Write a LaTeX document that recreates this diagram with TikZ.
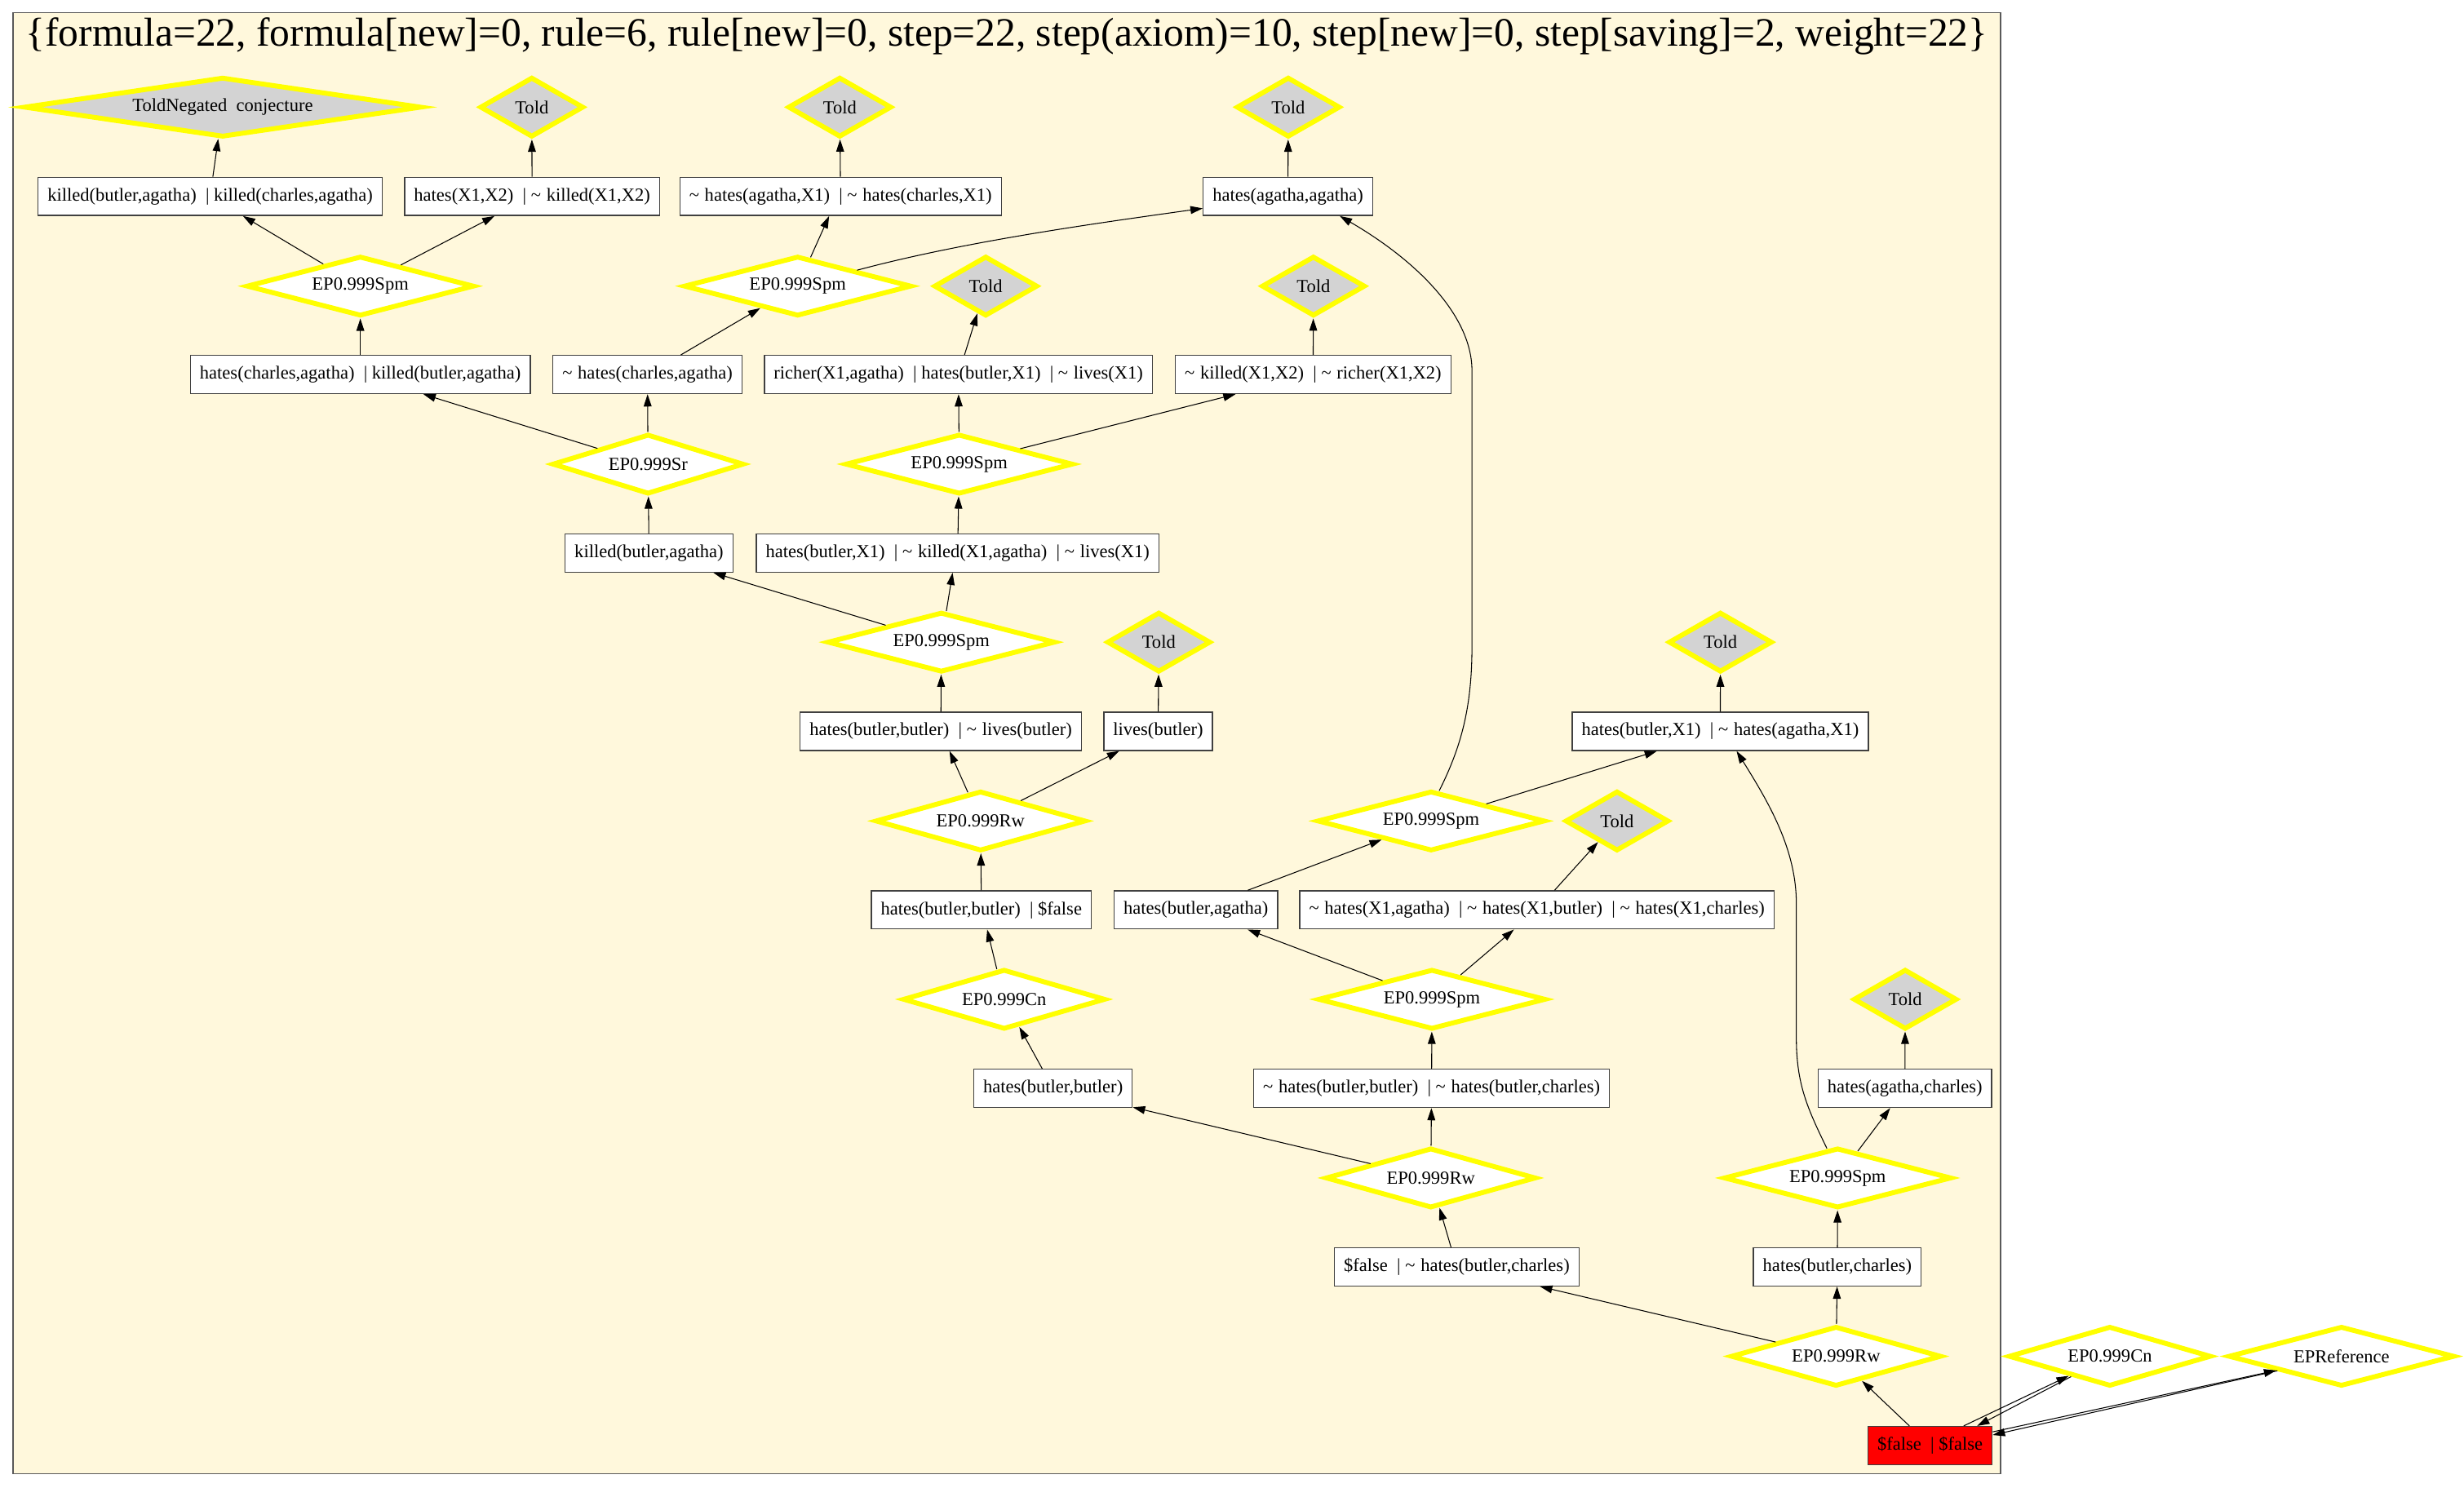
\documentclass[tikz,border=0pt]{standalone}
\usepackage{fontspec}
\setmainfont{Liberation Serif}
\usetikzlibrary{arrows.meta}
\usetikzlibrary{shapes.geometric}
\definecolor{cornsilk}{RGB}{255,248,220}
\definecolor{toldgray}{RGB}{211,211,211}
\definecolor{ruleyellow}{RGB}{255,255,0}
\definecolor{emptyred}{RGB}{255,0,0}
\newcommand\nodefont{\fontsize{11.7}{14}\selectfont}
\newcommand\titlefont{\fontsize{25.7}{30}\selectfont}
\newcommand\nlit{\textasciitilde\hspace{0.3em}}
\newcommand\orsep{\ \ |\ }
\tikzset{
    clause box/.style={
        draw=black!75,
        line width=0.7pt,
        fill=white,
        rectangle,
        minimum height=24.3pt,
        inner xsep=6pt,
        inner ysep=0pt,
        font=\nodefont,
    },
    empty clause/.style={
        clause box,
        fill=emptyred,
    },
    rule diamond/.style={
        diamond,
        draw=ruleyellow,
        line width=3.1pt,
        fill=white,
        minimum width=#1pt,
        minimum height=38.2pt,
        /utils/exec={\pgfmathsetmacro\diamondaspect{#1/38.2}},
        aspect=\diamondaspect,
        inner sep=0pt,
        font=\nodefont,
    },
    rule diamond/.default=145,
    told diamond/.style={
        rule diamond=#1,
        fill=toldgray,
    },
    told diamond/.default=66,
    proof edge/.style={
        line width=0.55pt,
        -{Triangle[length=7.8pt,width=5pt]},
    },
    cluster frame/.style={
        draw=black!65,
        line width=0.7pt,
        fill=cornsilk,
    },
}

\begin{document}
\begin{tikzpicture}[x=1pt, y=-1pt]

    \fill[white] (0,0) rectangle (1568,947);
    \useasboundingbox (0,0) rectangle (1568,947);
    \draw[cluster frame] (8.3,8.1) rectangle (1273,938.1);

    \node[anchor=base, font=\titlefont] (title) at (640.7,29.4)
        {\{formula=22, formula[new]=0, rule=6, rule[new]=0, step=22, step(axiom)=10, step[new]=0, step[saving]=2, weight=22\}};

    % told axioms
    \node[told diamond=253] (tneg) at (141.7,68.2) {ToldNegated\ \ conjecture};
    \node[told diamond] (t1) at (338.4,68.2) {Told};
    \node[told diamond] (t2) at (534.4,68.2) {Told};
    \node[told diamond] (t3) at (819.8,68.2) {Told};
    \node[told diamond] (t4) at (627.3,182.1) {Told};
    \node[told diamond] (t5) at (835.8,182.1) {Told};
    \node[told diamond] (t6) at (737.4,408.7) {Told};
    \node[told diamond] (t7) at (1094.8,408.7) {Told};
    \node[told diamond] (t8) at (1029,522.5) {Told};
    \node[told diamond] (t9) at (1212.4,636) {Told};

    % clauses
    \node[clause box] (c1) at (133.7,125) {killed(butler,agatha)\orsep killed(charles,agatha)};
    \node[clause box] (c2) at (338.6,125) {hates(X1,X2)\orsep\nlit killed(X1,X2)};
    \node[clause box] (c3) at (534.9,125) {\nlit hates(agatha,X1)\orsep\nlit hates(charles,X1)};
    \node[clause box] (c4) at (819.6,125) {hates(agatha,agatha)};
    \node[clause box] (c5) at (229.3,238.4) {hates(charles,agatha)\orsep killed(butler,agatha)};
    \node[clause box] (c6) at (412,238.4) {\nlit hates(charles,agatha)};
    \node[clause box] (c7) at (609.9,238.4) {richer(X1,agatha)\orsep hates(butler,X1)\orsep\nlit lives(X1)};
    \node[clause box] (c8) at (835.6,238.4) {\nlit killed(X1,X2)\orsep\nlit richer(X1,X2)};
    \node[clause box] (c9) at (413,352) {killed(butler,agatha)};
    \node[clause box] (c10) at (609.4,352) {hates(butler,X1)\orsep\nlit killed(X1,agatha)\orsep\nlit lives(X1)};
    \node[clause box] (c11) at (598.7,465.5) {hates(butler,butler)\orsep\nlit lives(butler)};
    \node[clause box] (c12) at (737,465.5) {lives(butler)};
    \node[clause box] (c13) at (1094.7,465.5) {hates(butler,X1)\orsep\nlit hates(agatha,X1)};
    \node[clause box] (c14) at (624.5,579.1) {hates(butler,butler)\orsep\$false};
    \node[clause box] (c15) at (761,579.1) {hates(butler,agatha)};
    \node[clause box] (c16) at (978,579.1) {\nlit hates(X1,agatha)\orsep\nlit hates(X1,butler)\orsep\nlit hates(X1,charles)};
    \node[clause box] (c17) at (670.1,692.7) {hates(butler,butler)};
    \node[clause box] (c18) at (911,692.7) {\nlit hates(butler,butler)\orsep\nlit hates(butler,charles)};
    \node[clause box] (c19) at (1212.2,692.7) {hates(agatha,charles)};
    \node[clause box] (c20) at (927,806.3) {\$false\orsep\nlit hates(butler,charles)};
    \node[clause box] (c21) at (1169.2,806.3) {hates(butler,charles)};
    \node[empty clause] (c22) at (1228.2,920) {\$false\orsep\$false};

    % inference steps
    \node[rule diamond] (r1) at (229.3,182.1) {EP0.999Spm};
    \node[rule diamond] (r2) at (507.6,182.1) {EP0.999Spm};
    \node[rule diamond=122] (r3) at (412.4,295.4) {EP0.999Sr};
    \node[rule diamond] (r4) at (610.4,295.4) {EP0.999Spm};
    \node[rule diamond] (r5) at (599,408.7) {EP0.999Spm};
    \node[rule diamond=134] (r6) at (624,522.5) {EP0.999Rw};
    \node[rule diamond] (r7) at (910.7,522.5) {EP0.999Spm};
    \node[rule diamond=129] (r8) at (639,636) {EP0.999Cn};
    \node[rule diamond] (r9) at (911.2,636) {EP0.999Spm};
    \node[rule diamond=134] (r10) at (910.5,749.7) {EP0.999Rw};
    \node[rule diamond] (r11) at (1169.4,749.7) {EP0.999Spm};
    \node[rule diamond=134] (r12) at (1168.4,863.2) {EP0.999Rw};
    \node[rule diamond=129] (r13) at (1342.6,863.2) {EP0.999Cn};
    \node[rule diamond=144] (r14) at (1490,863.2) {EPReference};

    \foreach \src/\dst in {c1/tneg, c2/t1, c3/t2, c4/t3, r1/c1, r1/c2, c5/r1, c6/r2,
        c7/t4, c8/t5, r3/c5, r3/c6, r4/c7, r4/c8, c9/r3, c10/r4, r5/c9, c11/r5,
        c12/t6, c13/t7, r6/c11, r6/c12, r7/c13, c14/r6, c15/r7, c16/t8, r9/c15,
        c17/r8, c18/r9, c19/t9, r10/c17, r10/c18, r11/c19, c20/r10, c21/r11,
        r12/c20, r12/c21, c22/r12}
    {
        \draw[proof edge] (\src) -- (\dst);
    }

    \draw[proof edge] (r2) -- ([xshift=-7.3pt]c3.south);
    \draw[proof edge] (r5) -- ([xshift=-3.2pt]c10.south);
    \draw[proof edge] (r8) -- ([xshift=3.7pt]c14.south);
    \draw[proof edge] (r9) -- ([xshift=-14.6pt]c16.south);

    \draw[proof edge] (r2.15) .. controls (613.5,153.7) and (696.2,142.3) .. ([yshift=-7.6pt]c4.west);
    \draw[proof edge] (r7.75) .. controls (930,475) and (936.7,450) .. (936.7,411)
        -- (936.7,236) .. controls (936.7,200) and (900,165) .. ([xshift=33pt]c4.south);
    \draw[proof edge] (r11.110) .. controls (1150,705) and (1143.1,690) .. (1143.1,660)
        -- (1143.1,575) .. controls (1143.1,540) and (1125,510) .. ([xshift=10.4pt]c13.south);

    % empty clause references
    \draw[proof edge] ([xshift=21.4pt]c22.north) -- (r13);
    \draw[proof edge] (r13) -- ([xshift=30pt]c22.north);
    \draw[proof edge] ([yshift=8.7pt]c22.east) -- (r14);
    \draw[proof edge] (r14) -- ([yshift=6.7pt]c22.east);

\end{tikzpicture}
\end{document}
